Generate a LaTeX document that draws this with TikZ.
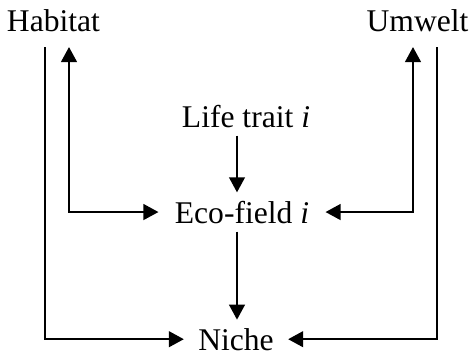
\documentclass[tikz,border=0pt]{standalone}
\usepackage{fontspec}
\setmainfont{Liberation Serif}
\usepackage{tikz}
\usetikzlibrary{arrows.meta}

\begin{document}
\begin{tikzpicture}[x=0.5pt, y=-0.5pt,
        lbl/.style={font=\fontsize{15.8}{19}\selectfont, inner xsep=7pt, inner ysep=4pt},
        link/.style={line width=1.15pt, -{Triangle[length=7.5pt, width=7.8pt]}},
        twoway/.style={link, {Triangle[length=7.5pt, width=7.8pt]}-{Triangle[length=7.5pt, width=7.8pt]}}]
                \useasboundingbox (0,0) rectangle (471,355);
                \node[lbl, anchor=base] (habitat) at (53.5,31) {Habitat};
                \node[lbl, anchor=base] (umwelt) at (417.5,31) {Umwelt};
                \node[lbl, anchor=base] (trait) at (246,127) {Life trait \textit{i}};
                \node[lbl, anchor=base, inner xsep=8pt] (eco) at (242,223) {Eco-field \textit{i}};
                \node[lbl, anchor=base] (niche) at (236,350) {Niche};
                \coordinate (mid) at (237,0);
                \coordinate (hout) at (45,47);
                \coordinate (hin) at (69,47);
                \coordinate (uin) at (413,47);
                \coordinate (uout) at (437,47);
                \draw[link] (trait.south -| mid) -- (eco.north -| mid);
                \draw[link] (eco.south -| mid) -- (niche.north -| mid);
                \draw[twoway] (hin) |- (eco.west);
                \draw[twoway] (uin) |- (eco.east);
                \draw[link] (hout) |- (niche.west);
                \draw[link] (uout) |- (niche.east);
            \end{tikzpicture}
\end{document}
